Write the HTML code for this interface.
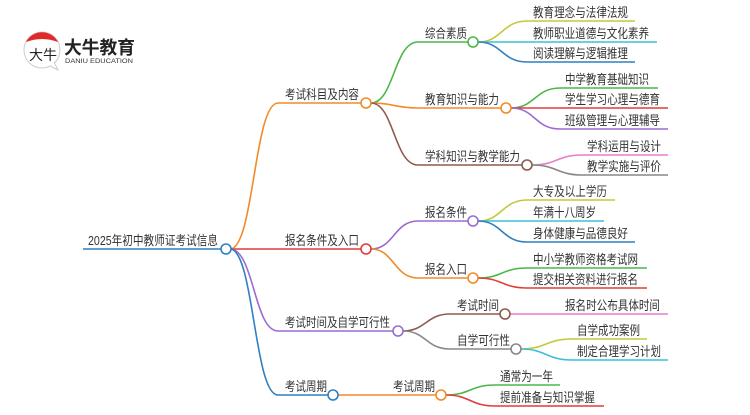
<!DOCTYPE html>
<html><head><meta charset="utf-8"><style>
body{margin:0;background:#fff;width:750px;height:410px;overflow:hidden}
svg text{font-family:"Liberation Sans","Noto Sans CJK SC",sans-serif;font-size:13px;fill:#333}
</style></head><body>
<svg width="750" height="410" viewBox="0 0 750 410" xmlns="http://www.w3.org/2000/svg" fill="none" stroke-width="1.6">
<circle cx="42" cy="50" r="18" fill="#fff" stroke="#ccc" stroke-width="1"/>
<path d="M26 42 A18 18 0 0 1 58 42 Q42 36 26 42 Z" fill="#e02a2a" stroke="none"/>
<path d="M50 66 L58 70 L54 62" fill="#fff" stroke="#ccc" stroke-width="1"/>
<text x="29" y="60" style="font-size:14px;fill:#222">大牛</text>
<text x="64" y="54" textLength="71" lengthAdjust="spacingAndGlyphs" style="font-size:18px;font-weight:bold;fill:#222">大牛教育</text>
<text x="65" y="63" textLength="68" lengthAdjust="spacingAndGlyphs" style="font-size:6.5px;fill:#333">DANIU EDUCATION</text>

<path d="M83 249 H222" stroke="#2f7fc1"/>
<text x="88" y="245" textLength="130" lengthAdjust="spacingAndGlyphs">2025年初中教师证考试信息</text>
<path d="M230 249 C254 249 254 103 278 103 H361" stroke="#f28a2a"/>
<path d="M231 249 H361" stroke="#e03c3c"/>
<path d="M230 249 C254 249 254 331 278 331 H393" stroke="#9b6bd0"/>
<path d="M230 249 C254 249 254 395 278 395 H328" stroke="#2f7fc1"/>
<circle cx="226" cy="249" r="5" fill="#fff" stroke="#2f7fc1"/>
<text x="285" y="99" textLength="74" lengthAdjust="spacingAndGlyphs">考试科目及内容</text>
<text x="285" y="245" textLength="74" lengthAdjust="spacingAndGlyphs">报名条件及入口</text>
<text x="285" y="327" textLength="105" lengthAdjust="spacingAndGlyphs">考试时间及自学可行性</text>
<text x="285" y="391" textLength="42" lengthAdjust="spacingAndGlyphs">考试周期</text>

<path d="M371 103 C394 103 394 42 418 42 H468" stroke="#4cb648"/>
<path d="M371 103 C394 103 394 108 418 108 H501" stroke="#f28a2a"/>
<path d="M371 103 C394 103 394 165 418 165 H522" stroke="#8d5b4c"/>
<circle cx="366" cy="103" r="5" fill="#fff" stroke="#f28a2a"/>
<text x="425" y="38" textLength="42" lengthAdjust="spacingAndGlyphs">综合素质</text>
<text x="425" y="104" textLength="74" lengthAdjust="spacingAndGlyphs">教育知识与能力</text>
<text x="425" y="161" textLength="95" lengthAdjust="spacingAndGlyphs">学科知识与教学能力</text>
<path d="M478 42 C502 42 502 21 527 21 H635" stroke="#c5c83a"/>
<path d="M478 42 H657" stroke="#3cc0d8"/>
<path d="M478 42 C502 42 502 62 527 62 H635" stroke="#2f7fc1"/>
<circle cx="473" cy="42" r="5" fill="#fff" stroke="#4cb648"/>
<text x="533" y="17" textLength="95" lengthAdjust="spacingAndGlyphs">教育理念与法律法规</text>
<text x="533" y="38" textLength="116" lengthAdjust="spacingAndGlyphs">教师职业道德与文化素养</text>
<text x="533" y="58" textLength="95" lengthAdjust="spacingAndGlyphs">阅读理解与逻辑推理</text>
<path d="M511 108 C535 108 535 88 560 88 H658" stroke="#4cb648"/>
<path d="M511 108 H668" stroke="#e03c3c"/>
<path d="M511 108 C535 108 535 129 560 129 H668" stroke="#9b6bd0"/>
<circle cx="506" cy="108" r="5" fill="#fff" stroke="#f28a2a"/>
<text x="565" y="84" textLength="84" lengthAdjust="spacingAndGlyphs">中学教育基础知识</text>
<text x="565" y="104" textLength="95" lengthAdjust="spacingAndGlyphs">学生学习心理与德育</text>
<text x="565" y="125" textLength="95" lengthAdjust="spacingAndGlyphs">班级管理与心理辅导</text>
<path d="M532 165 C557 165 557 155 582 155 H668" stroke="#e87fc8"/>
<path d="M532 165 C557 165 557 175 582 175 H668" stroke="#888"/>
<circle cx="527" cy="165" r="5" fill="#fff" stroke="#8d5b4c"/>
<text x="587" y="151" textLength="74" lengthAdjust="spacingAndGlyphs">学科运用与设计</text>
<text x="587" y="171" textLength="74" lengthAdjust="spacingAndGlyphs">教学实施与评价</text>

<path d="M371 249 C394 249 394 221 418 221 H468" stroke="#9b6bd0"/>
<path d="M371 249 C394 249 394 278 418 278 H468" stroke="#f28a2a"/>
<circle cx="366" cy="249" r="5" fill="#fff" stroke="#e03c3c"/>
<text x="425" y="217" textLength="42" lengthAdjust="spacingAndGlyphs">报名条件</text>
<text x="425" y="274" textLength="42" lengthAdjust="spacingAndGlyphs">报名入口</text>
<path d="M478 221 C502 221 502 200 527 200 H615" stroke="#c5c83a"/>
<path d="M478 221 H604" stroke="#3cc0d8"/>
<path d="M478 221 C502 221 502 242 527 242 H635" stroke="#2f7fc1"/>
<circle cx="473" cy="221" r="5" fill="#fff" stroke="#9b6bd0"/>
<text x="533" y="196" textLength="74" lengthAdjust="spacingAndGlyphs">大专及以上学历</text>
<text x="533" y="217" textLength="63" lengthAdjust="spacingAndGlyphs">年满十八周岁</text>
<text x="533" y="238" textLength="95" lengthAdjust="spacingAndGlyphs">身体健康与品德良好</text>
<path d="M478 278 C502 278 502 268 527 268 H647" stroke="#4cb648"/>
<path d="M478 278 C502 278 502 288 527 288 H647" stroke="#e03c3c"/>
<circle cx="473" cy="278" r="5" fill="#fff" stroke="#f28a2a"/>
<text x="533" y="264" textLength="105" lengthAdjust="spacingAndGlyphs">中小学教师资格考试网</text>
<text x="533" y="284" textLength="105" lengthAdjust="spacingAndGlyphs">提交相关资料进行报名</text>

<path d="M403 331 C426 331 426 314 450 314 H500" stroke="#8d5b4c"/>
<path d="M403 331 C426 331 426 349 450 349 H511" stroke="#888"/>
<circle cx="398" cy="331" r="5" fill="#fff" stroke="#9b6bd0"/>
<text x="457" y="310" textLength="42" lengthAdjust="spacingAndGlyphs">考试时间</text>
<text x="457" y="345" textLength="53" lengthAdjust="spacingAndGlyphs">自学可行性</text>
<path d="M510 314 H668" stroke="#e87fc8"/>
<circle cx="505" cy="314" r="5" fill="#fff" stroke="#8d5b4c"/>
<text x="565" y="310" textLength="95" lengthAdjust="spacingAndGlyphs">报名时公布具体时间</text>
<path d="M521 349 C546 349 546 339 572 339 H647" stroke="#c5c83a"/>
<path d="M521 349 C546 349 546 360 572 360 H668" stroke="#3cc0d8"/>
<circle cx="516" cy="349" r="5" fill="#fff" stroke="#888"/>
<text x="577" y="335" textLength="63" lengthAdjust="spacingAndGlyphs">自学成功案例</text>
<text x="577" y="356" textLength="84" lengthAdjust="spacingAndGlyphs">制定合理学习计划</text>

<path d="M338 395 H436" stroke="#f28a2a"/>
<circle cx="333" cy="395" r="5" fill="#fff" stroke="#2f7fc1"/>
<text x="393" y="391" textLength="42" lengthAdjust="spacingAndGlyphs">考试周期</text>
<path d="M446 395 C470 395 470 385 495 385 H560" stroke="#4cb648"/>
<path d="M446 395 C470 395 470 406 495 406 H604" stroke="#e03c3c"/>
<circle cx="441" cy="395" r="5" fill="#fff" stroke="#f28a2a"/>
<text x="500" y="381" textLength="53" lengthAdjust="spacingAndGlyphs">通常为一年</text>
<text x="500" y="402" textLength="95" lengthAdjust="spacingAndGlyphs">提前准备与知识掌握</text>
</svg>
</body></html>
